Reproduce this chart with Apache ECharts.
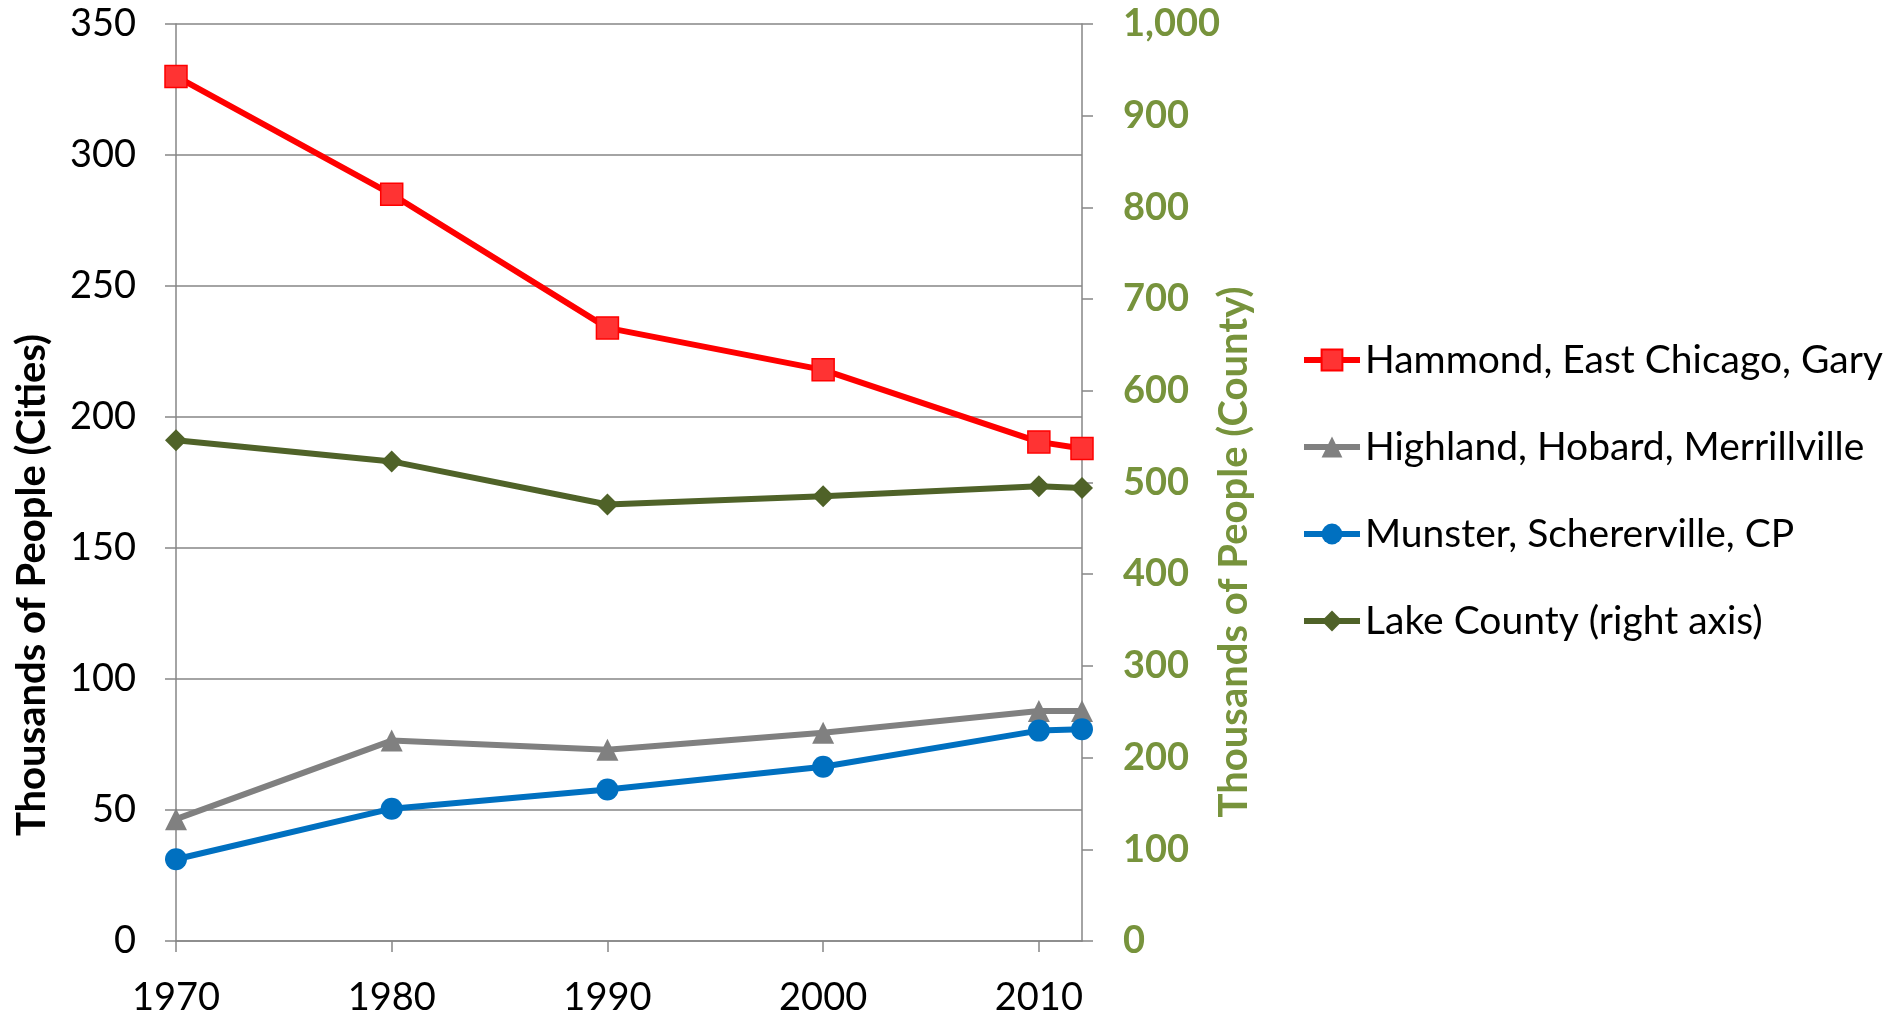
<!DOCTYPE html>
<html>
<head>
<meta charset="utf-8">
<script src="https://cdn.jsdelivr.net/npm/echarts@6/dist/echarts.min.js"></script>
<style>
html,body{margin:0;padding:0;background:#fff;}
#chart{width:1887px;height:1017px;}
</style>
</head>
<body>
<div id="chart"></div>
<script>
const years = [1970, 1980, 1990, 2000, 2010, 2012];
const hammond = [330, 285, 234, 218, 190.5, 188];
const highland = [46.5, 76.5, 73, 79.5, 87.8, 87.8];
const munster = [31.2, 50.5, 57.8, 66.5, 80.3, 80.8];
const lakeCounty = [546, 523, 476, 485, 496, 494];
const seriesNames = ['Hammond, East Chicago, Gary', 'Highland, Hobard, Merrillville', 'Munster, Schererville, CP', 'Lake County (right axis)'];
const leftTitle = 'Thousands of People (Cities)';
const rightTitle = 'Thousands of People (County)';

const FONT = 'Lato';
const pair = arr => arr.map((v, i) => [years[i], v]);

const chart = echarts.init(document.getElementById('chart'));
chart.setOption({
  animation: false,
  backgroundColor: '#fff',
  grid: { left: 176, right: 805, top: 24, bottom: 75, containLabel: false },
  xAxis: {
    type: 'value', min: 1970, max: 2012, interval: 10,
    axisLine: { show: true, lineStyle: { color: '#868686', width: 1.5 } },
    axisTick: { show: true, length: 11, lineStyle: { color: '#868686', width: 1.5 } },
    splitLine: { show: false },
    axisLabel: { color: '#000', fontFamily: FONT, fontSize: 38, margin: 38, showMaxLabel: false,
      formatter: v => String(v) }
  },
  yAxis: [{
    type: 'value', min: 0, max: 350, interval: 50, position: 'left',
    axisLine: { show: true, lineStyle: { color: '#868686', width: 1.5 } },
    axisTick: { show: true, length: 11, lineStyle: { color: '#868686', width: 1.5 } },
    splitLine: { show: true, lineStyle: { color: '#868686', width: 1.5 } },
    axisLabel: { color: '#000', fontFamily: FONT, fontSize: 38, margin: 40 }
  }, {
    type: 'value', min: 0, max: 1000, interval: 100, position: 'right',
    axisLine: { show: true, lineStyle: { color: '#868686', width: 1.5 } },
    axisTick: { show: true, length: 11, lineStyle: { color: '#868686', width: 1.5 } },
    splitLine: { show: false },
    axisLabel: { color: '#77933C', fontFamily: FONT, fontWeight: 'bold', fontSize: 38, margin: 41,
      formatter: v => v.toLocaleString('en-US') }
  }],
  legend: {
    orient: 'vertical', left: 1296, top: 333,
    itemWidth: 56, itemHeight: 26, itemGap: 43,
    lineStyle: { width: 6 },
    textStyle: { color: '#000', fontFamily: FONT, fontSize: 39, lineHeight: 44 },
    data: seriesNames
  },
  graphic: [{
    type: 'text', x: 32, y: 585, rotation: Math.PI / 2,
    style: { text: leftTitle, fill: '#000', font: 'bold 40px Lato', textAlign: 'center', textVerticalAlign: 'middle' }
  }, {
    type: 'text', x: 1234, y: 552, rotation: Math.PI / 2,
    style: { text: rightTitle, fill: '#77933C', font: 'bold 40px Lato', textAlign: 'center', textVerticalAlign: 'middle' }
  }],
  series: [{
    name: seriesNames[0], type: 'line', yAxisIndex: 0, data: pair(hammond),
    symbol: 'rect', symbolSize: 22,
    lineStyle: { color: '#FF0000', width: 6 },
    itemStyle: { color: '#FF3333', borderColor: '#FF0000', borderWidth: 1.5 }
  }, {
    name: seriesNames[1], type: 'line', yAxisIndex: 0, data: pair(highland),
    symbol: 'triangle', symbolSize: 22,
    lineStyle: { color: '#808080', width: 6 },
    itemStyle: { color: '#808080', borderColor: '#808080', borderWidth: 0 }
  }, {
    name: seriesNames[2], type: 'line', yAxisIndex: 0, data: pair(munster),
    symbol: 'circle', symbolSize: 22,
    lineStyle: { color: '#0070C0', width: 6 },
    itemStyle: { color: '#0070C0', borderColor: '#0070C0', borderWidth: 0 }
  }, {
    name: seriesNames[3], type: 'line', yAxisIndex: 1, data: pair(lakeCounty),
    symbol: 'diamond', symbolSize: 22,
    lineStyle: { color: '#4F6228', width: 6 },
    itemStyle: { color: '#4F6228', borderColor: '#4F6228', borderWidth: 0 }
  }]
});
</script>
</body>
</html>
